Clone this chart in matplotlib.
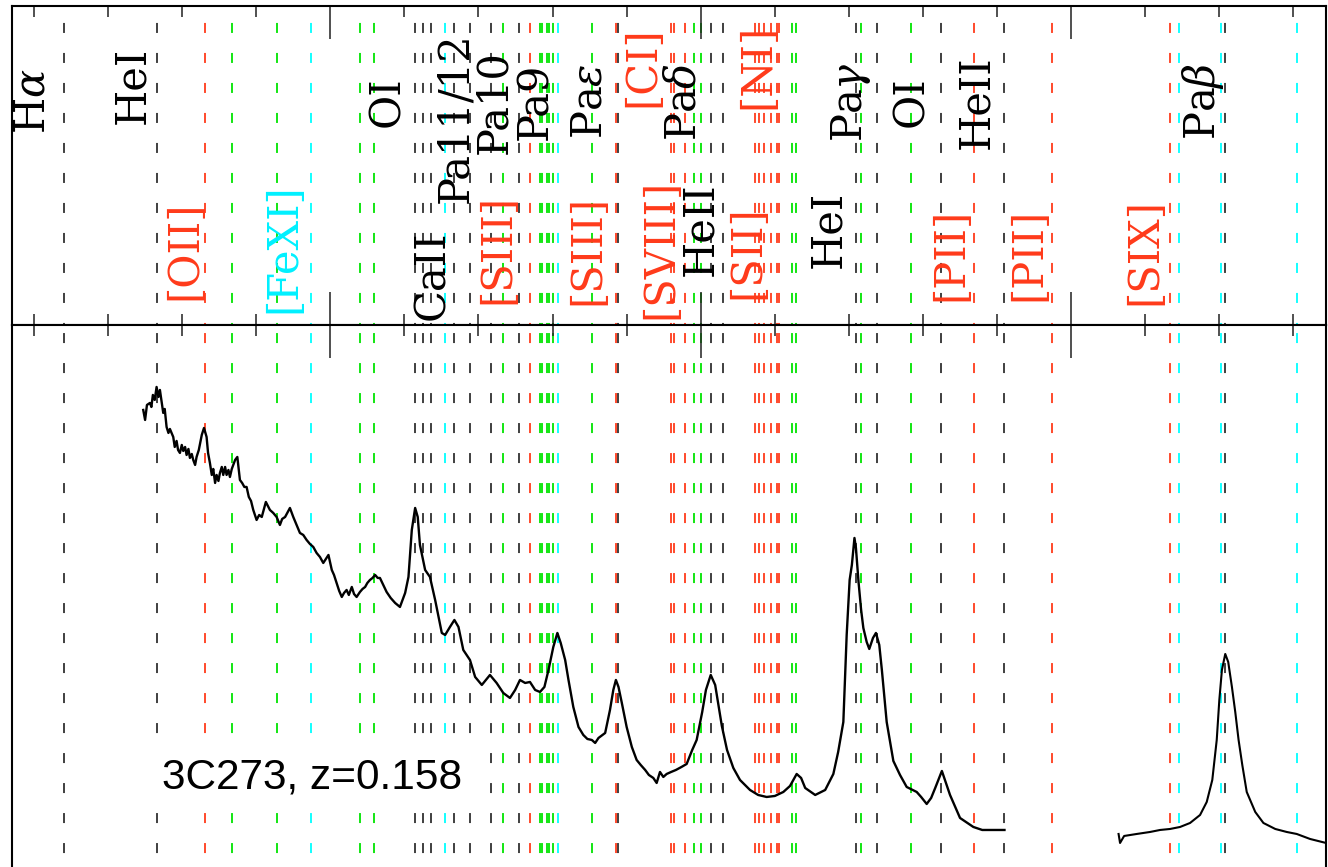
import matplotlib
matplotlib.use("Agg")
import matplotlib.pyplot as plt
from matplotlib.ticker import MultipleLocator

# line list positions (wavelength scale of the plot, Angstrom)
black_lines = [9282, 9533, 10229, 10249, 10272, 10334, 10377, 10433, 10510,
               10776, 11029, 11061, 11419, 11476, 11648, 11819, 12414]
red_lines = [9662, 10538, 10771, 10919, 10929, 10958, 11147, 11158, 11171,
             11190, 11205, 11211, 11738, 11948, 12267]
green_lines = [9734, 9857, 10080, 10119, 10467, 10566, 10572, 10585, 10591,
               10601, 10706, 10982, 11000, 11247, 11258, 11434, 11567]
cyan_lines = [9948, 10310, 10615, 12290, 12405, 12609]

# labels, upper row
upper_text = [r"H$\alpha$", "HeI", "OI", "Pa11/12", "Pa10", "Pa9", r"Pa$\epsilon$",
              "[CI]", r"Pa$\delta$", "[NI]", r"Pa$\gamma$", "OI", "HeII", r"Pa$\beta$"]
upper_wave = [9195, 9466, 10153, 10337, 10442, 10553, 10701,
              10842, 10954, 11152, 11406, 11569, 11745, 12356]
upper_color = ["k", "k", "k", "k", "k", "k", "k",
               "r", "k", "r", "k", "k", "k", "k"]
# labels, lower row
lower_text = ["[OII]", "[FeXI]", "CaII", "[SIII]", "[SIII]", "[SVIII]", "HeII",
              "[SII]", "HeI", "[PII]", "[PII]", "[SIX]"]
lower_wave = [9605, 9874, 10275, 10450, 10693, 10890, 10998,
              11126, 11345, 11675, 11884, 12197]
lower_color = ["r", "c", "k", "r", "r", "r", "k", "r", "k", "r", "r", "r"]

# spectrum of 3C273 (two segments, gap in between)
spec1_wave = [9495, 9500, 9505, 9513, 9517, 9521, 9526, 9531, 9536, 9540,
              9545, 9549, 9553, 9558, 9563, 9567, 9576, 9580, 9585, 9589,
              9594, 9599, 9603, 9608, 9612, 9617, 9621, 9626, 9630, 9635,
              9639, 9645, 9653, 9659, 9666, 9670, 9675, 9680, 9684, 9689,
              9693, 9698, 9702, 9707, 9711, 9716, 9720, 9725, 9729, 9734,
              9738, 9743, 9749, 9756, 9762, 9768, 9774, 9780, 9786, 9792,
              9801, 9808, 9815, 9826, 9837, 9846, 9855, 9864, 9870, 9878,
              9891, 9900, 9909, 9918, 9927, 9936, 9945, 9954, 9963, 9972,
              9981, 9988, 9995, 10004, 10010, 10017, 10024, 10031, 10037, 10044,
              10050, 10058, 10064, 10071, 10080, 10087, 10094, 10100, 10107, 10114,
              10121, 10128, 10134, 10143, 10152, 10163, 10175, 10188, 10202, 10211,
              10220, 10229, 10236, 10242, 10256, 10269, 10283, 10301, 10310, 10323,
              10335, 10346, 10359, 10377, 10391, 10409, 10431, 10449, 10467, 10485,
              10499, 10512, 10526, 10539, 10553, 10566, 10578, 10589, 10602, 10613,
              10622, 10634, 10643, 10656, 10670, 10683, 10694, 10706, 10715, 10724,
              10742, 10755, 10764, 10771, 10778, 10787, 10800, 10814, 10827, 10838,
              10850, 10860, 10872, 10881, 10890, 10899, 10908, 10920, 10933, 10948,
              10962, 10977, 10989, 11004, 11014, 11027, 11039, 11057, 11071, 11088,
              11106, 11133, 11155, 11178, 11200, 11223, 11241, 11259, 11271, 11282,
              11309, 11336, 11358, 11371, 11385, 11394, 11402, 11408, 11415, 11419,
              11426, 11433, 11439, 11448, 11455, 11465, 11473, 11482, 11489, 11502,
              11520, 11538, 11556, 11583, 11595, 11610, 11622, 11633, 11651, 11662,
              11673, 11700, 11736, 11760, 11790, 11820]
spec1_flux = [4.95, 4.85, 5.00, 5.02, 4.98, 5.10, 5.05, 5.18, 5.08, 5.15,
              5.02, 4.92, 4.96, 4.78, 4.72, 4.76, 4.68, 4.58, 4.64, 4.55,
              4.52, 4.60, 4.54, 4.58, 4.50, 4.56, 4.47, 4.51, 4.45, 4.40,
              4.48, 4.55, 4.70, 4.77, 4.68, 4.52, 4.42, 4.30, 4.36, 4.22,
              4.30, 4.24, 4.32, 4.38, 4.30, 4.38, 4.30, 4.35, 4.28, 4.36,
              4.40, 4.45, 4.48, 4.25, 4.22, 4.18, 4.18, 4.08, 4.04, 3.95,
              3.85, 3.90, 3.88, 4.03, 3.95, 3.92, 3.88, 3.80, 3.86, 3.88,
              3.97, 3.88, 3.80, 3.72, 3.70, 3.65, 3.61, 3.58, 3.52, 3.48,
              3.42, 3.46, 3.50, 3.35, 3.30, 3.22, 3.14, 3.08, 3.12, 3.15,
              3.10, 3.18, 3.11, 3.08, 3.13, 3.16, 3.18, 3.22, 3.25, 3.27,
              3.30, 3.27, 3.27, 3.20, 3.13, 3.07, 3.02, 2.98, 3.12, 3.28,
              3.75, 3.97, 3.88, 3.60, 3.35, 3.28, 3.05, 2.72, 2.70, 2.78,
              2.85, 2.78, 2.55, 2.45, 2.28, 2.20, 2.30, 2.22, 2.12, 2.07,
              2.15, 2.25, 2.22, 2.23, 2.15, 2.13, 2.18, 2.35, 2.58, 2.72,
              2.62, 2.45, 2.25, 1.98, 1.78, 1.70, 1.66, 1.65, 1.62, 1.67,
              1.72, 1.95, 2.15, 2.25, 2.18, 2.02, 1.78, 1.58, 1.45, 1.40,
              1.35, 1.30, 1.27, 1.22, 1.33, 1.28, 1.31, 1.33, 1.35, 1.38,
              1.41, 1.55, 1.65, 1.93, 2.15, 2.30, 2.20, 1.79, 1.55, 1.37,
              1.25, 1.15, 1.10, 1.08, 1.09, 1.13, 1.19, 1.31, 1.27, 1.17,
              1.10, 1.15, 1.31, 1.53, 1.83, 2.70, 3.25, 3.40, 3.67, 3.57,
              3.23, 2.95, 2.77, 2.63, 2.56, 2.67, 2.72, 2.60, 2.35, 1.83,
              1.44, 1.30, 1.18, 1.13, 1.08, 1.01, 1.07, 1.17, 1.34, 1.22,
              1.10, 0.87, 0.78, 0.75, 0.75, 0.75]
spec2_wave = [12128, 12132, 12143, 12177, 12213, 12240, 12267, 12294, 12321, 12348,
              12366, 12381, 12393, 12400, 12407, 12416, 12424, 12434, 12443, 12452,
              12462, 12474, 12497, 12519, 12551, 12582, 12609, 12645, 12688]
spec2_flux = [0.71, 0.62, 0.69, 0.71, 0.73, 0.75, 0.76, 0.78, 0.82, 0.90,
              1.03, 1.25, 1.65, 2.05, 2.35, 2.51, 2.43, 2.18, 1.93, 1.65,
              1.40, 1.13, 0.93, 0.82, 0.76, 0.73, 0.71, 0.66, 0.62]

obj_label = "3C273, z=0.158"

plt.rcParams["lines.scale_dashes"] = False
plt.rcParams["mathtext.fontset"] = "dejavuserif"

colors = {"k": "#303030", "r": "#ff3a1a", "g": "#00e400", "c": "#00ffff"}
text_colors = {"k": "black", "r": "#ff3a1a", "c": "#00f0ff"}

fig = plt.figure(figsize=(13.28, 8.67), dpi=100)
ax_top = fig.add_axes([0.0094, 0.6251, 0.9891, 0.3680])
ax_bot = fig.add_axes([0.0094, -0.0438, 0.9891, 0.6690])

for ax in (ax_top, ax_bot):
    ax.set_xlim(9142, 12688)
    ax.set_yticks([])
    ax.xaxis.set_major_locator(MultipleLocator(1000))
    ax.xaxis.set_minor_locator(MultipleLocator(200))
    ax.tick_params(axis="x", which="both", direction="in", labelbottom=False,
                   labeltop=False, colors="#202020", width=1.1)
    ax.tick_params(axis="x", which="major", length=24)
    ax.tick_params(axis="x", which="minor", length=8)
    for sp in ax.spines.values():
        sp.set_linewidth(1.5)

ax_top.set_ylim(0, 1)
ax_top.tick_params(axis="x", which="both", top=True, bottom=True)
ax_bot.set_ylim(0, 5.8)
ax_bot.tick_params(axis="x", which="both", top=True, bottom=False)

groups = [(black_lines, "k"), (red_lines, "r"), (green_lines, "g"), (cyan_lines, "c")]
for ax, offset in ((ax_top, 9.4), (ax_bot, 15.8)):
    y0, y1 = ax.get_ylim()
    for waves, c in groups:
        ax.vlines(waves, y1, y0, colors=colors[c], linewidth=1.3,
                  linestyles=[(offset, (7.2, 14.4))], zorder=1)

# label rows
upper_y = [0.70, 0.75, 0.70, 0.65, 0.70, 0.70, 0.70, 0.81, 0.70, 0.81, 0.70, 0.70, 0.70, 0.70]
lower_y = [0.235, 0.24, 0.155, 0.24, 0.235, 0.24, 0.30, 0.23, 0.30, 0.22, 0.22, 0.23]
for texts, waves, cols, ys in ((upper_text, upper_wave, upper_color, upper_y),
                               (lower_text, lower_wave, lower_color, lower_y)):
    for t, w, c, y in zip(texts, waves, cols, ys):
        ax_top.text(w, y, t, rotation=90, ha="center", va="center",
                    family="DejaVu Serif", fontsize=30, color=text_colors[c], zorder=3)

ax_bot.plot(spec1_wave, spec1_flux, color="black", linewidth=1.7, zorder=2)
ax_bot.plot(spec2_wave, spec2_flux, color="black", linewidth=1.5, zorder=2)

ax_bot.text(9546, 1.27, obj_label, ha="left", va="center", family="Liberation Sans",
            fontsize=30.5, color="black", zorder=4,
            bbox=dict(facecolor="white", edgecolor="none", pad=9))

fig.savefig("out.png", dpi=100)
